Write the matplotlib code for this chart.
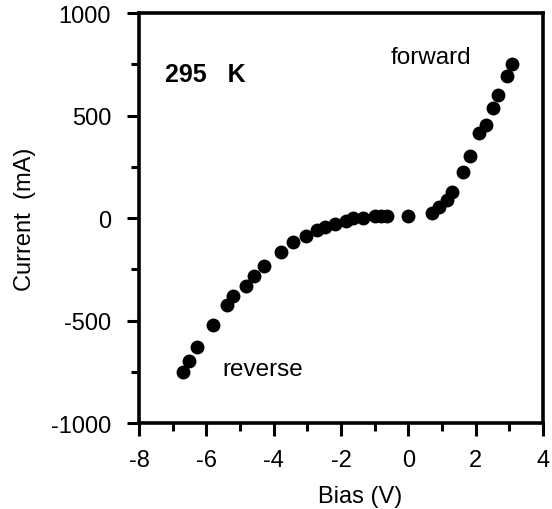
import matplotlib
matplotlib.use("Agg")
import matplotlib.pyplot as plt
from matplotlib.ticker import MultipleLocator

plt.rcParams['font.family'] = ['Liberation Sans', 'DejaVu Sans']
plt.rcParams['axes.unicode_minus'] = False

bias_reverse = [-6.68, -6.50, -6.27, -5.81, -5.38, -5.22, -4.82, -4.58, -4.29,
                -3.79, -3.43, -3.04, -2.72, -2.47, -2.18, -1.85, -1.63, -1.34,
                -0.99, -0.82, -0.64, 0.0]
current_reverse = [-750, -696, -629, -524, -424, -381, -331, -285, -236,
                   -168, -116, -86, -57, -45, -29, -13, -1, -2,
                   8, 9, 8, 10]
bias_forward = [0.70, 0.92, 1.14, 1.29, 1.62, 1.83, 2.11, 2.31, 2.51, 2.67, 2.92, 3.07]
current_forward = [25, 52, 90, 126, 224, 302, 417, 456, 538, 600, 695, 750]

x_ticks = [-8, -6, -4, -2, 0, 2, 4]
y_ticks = [-1000, -500, 0, 500, 1000]

fig = plt.figure(figsize=(5.52, 5.10), dpi=100)
ax = fig.add_axes([0.2518, 0.1686, 0.7319, 0.8039])

ax.plot(bias_reverse + bias_forward, current_reverse + current_forward,
        'o', color='black', markersize=10, markeredgewidth=0)

ax.set_xlim(-8, 4)
ax.set_ylim(-1000, 1000)
ax.set_xticks(x_ticks)
ax.set_yticks(y_ticks)
ax.xaxis.set_minor_locator(MultipleLocator(1))
ax.yaxis.set_minor_locator(MultipleLocator(250))
ax.tick_params(which='major', direction='out', length=9, width=2.2,
               top=False, right=False)
ax.tick_params(which='minor', direction='out', length=6, width=2.2,
               top=False, right=False)
ax.tick_params(axis='x', which='major', labelsize=17, pad=10)
ax.tick_params(axis='y', which='major', labelsize=17, pad=11)
for s in ax.spines.values():
    s.set_linewidth(2.6)

ax.set_xlabel('Bias (V)', fontsize=17)
ax.set_ylabel('Current  (mA)', fontsize=17)
ax.xaxis.set_label_coords(0.547, -0.150)
ax.yaxis.set_label_coords(-0.255, 0.5)

ax.text(-7.23, 702, '295   K', fontsize=18, fontweight='bold', va='center', ha='left')
ax.text(-0.54, 785, 'forward', fontsize=17.5, va='center', ha='left')
ax.text(-5.53, -737, 'reverse', fontsize=17.5, va='center', ha='left')

fig.savefig('out.png', dpi=100)
